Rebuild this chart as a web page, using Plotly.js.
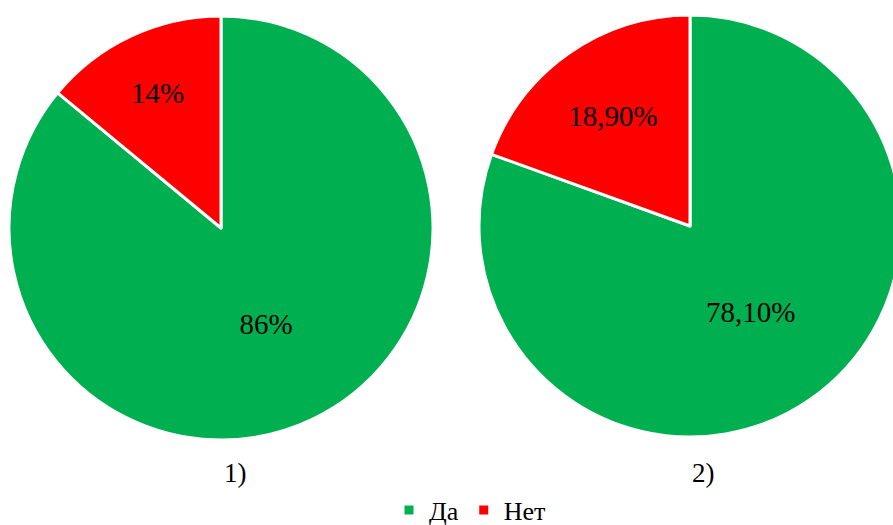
<!DOCTYPE html>
<html>
<head>
<meta charset="utf-8">
<script src="https://cdn.plot.ly/plotly-3.0.1.min.js"></script>
<style>
html,body{margin:0;padding:0;overflow:hidden;background:#fff;}
#chart{width:910px;height:525px;}
</style>
</head>
<body>
<div id="chart"></div>
<script>
const categories = ["Да", "Нет"];
const values1 = [86, 14];
const labels1 = ["86%", "14%"];
const values2 = [78.1, 18.9];
const labels2 = ["78,10%", "18,90%"];
const captions = ["1)", "2)"];
const colors = ["#00B050", "#FF0000"];

const W = 910, H = 525;
const font = "Liberation Serif, Times New Roman, serif";

function pie(vals, txt, dx, dy, show) {
  return {
    type: "pie",
    labels: categories,
    values: vals,
    text: txt,
    textinfo: "text",
    textposition: "inside",
    insidetextorientation: "horizontal",
    sort: false,
    direction: "clockwise",
    rotation: 0,
    marker: {colors: colors, line: {color: "#ffffff", width: 3}},
    insidetextfont: {family: font, size: 29, color: "#000000"},
    domain: {x: dx, y: dy},
    showlegend: show,
    hoverinfo: "none"
  };
}

const data = [
  pie(values1, labels1, [9 / W, 433 / W], [(H - 440) / H, (H - 16) / H], true),
  pie(values2, labels2, [479 / W, 901 / W], [(H - 437) / H, (H - 15) / H], false)
];

const layout = {
  width: W,
  height: H,
  margin: {l: 0, r: 0, t: 0, b: 0, autoexpand: false},
  paper_bgcolor: "#ffffff",
  font: {family: font},
  showlegend: true,
  legend: {
    orientation: "h",
    x: 470 / W,
    xanchor: "center",
    y: (H - 510) / H,
    yanchor: "middle",
    font: {family: font, size: 26, color: "#000000"},
    itemwidth: 30,
    tracegroupgap: 0
  },
  annotations: [
    {text: captions[0], x: 235 / W, y: (H - 473) / H, xref: "paper", yref: "paper",
     showarrow: false, font: {family: font, size: 27, color: "#000000"}, xanchor: "center", yanchor: "middle"},
    {text: captions[1], x: 703 / W, y: (H - 473) / H, xref: "paper", yref: "paper",
     showarrow: false, font: {family: font, size: 27, color: "#000000"}, xanchor: "center", yanchor: "middle"}
  ]
};

Plotly.newPlot("chart", data, layout, {displayModeBar: false});
</script>
</body>
</html>
